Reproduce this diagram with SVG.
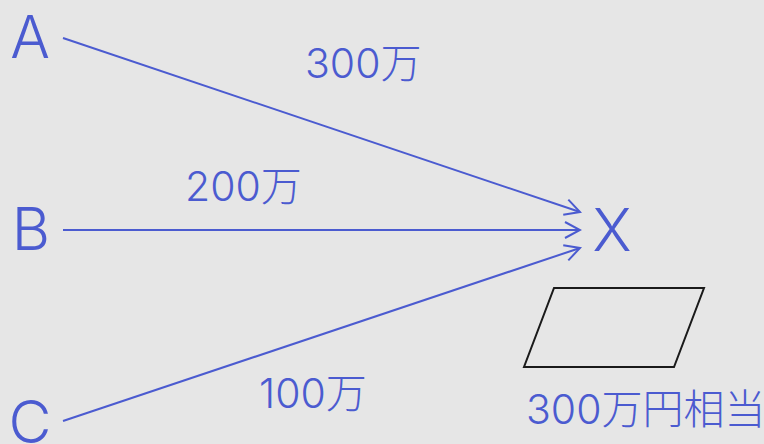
<svg xmlns="http://www.w3.org/2000/svg" width="764" height="444" viewBox="0 0 764 444">
<defs>
<style>
.t{fill:#4b5bd0;font-family:Inter,"Noto Sans CJK JP",sans-serif;font-weight:300;}
.big{font-size:59px;text-anchor:middle;}
.lbl{font-size:41px;}
.e{stroke:#4b5bd0;stroke-width:2;fill:none;}
</style>
<marker id="ah" viewBox="0 0 20 20" refX="18" refY="10" markerWidth="20" markerHeight="20" markerUnits="userSpaceOnUse" orient="auto">
<path d="M3 2 L18 10 L3 18" fill="none" stroke="#4b5bd0" stroke-width="2"/>
</marker>
</defs>
<rect width="764" height="444" fill="#e6e6e6"/>
<g id="connectors">
<line class="e" x1="63" y1="38" x2="580" y2="212" marker-end="url(#ah)"/>
<line class="e" x1="63" y1="230" x2="580" y2="230" marker-end="url(#ah)"/>
<line class="e" x1="63" y1="421" x2="580" y2="248" marker-end="url(#ah)"/>
<text class="t lbl" x="305" y="78">300万</text>
<text class="t lbl" x="185" y="201">200万</text>
<text class="t lbl" x="259" y="408">100万</text>
</g>
<g id="A"><text class="t big" x="30" y="58">A</text></g>
<g id="B"><text class="t big" x="31" y="250">B</text></g>
<g id="C"><text class="t big" x="30" y="443">C</text></g>
<g id="X"><text class="t big" x="612" y="251">X</text></g>
<g id="shape">
<polygon points="554,288 704,288 674,367 524,367" fill="none" stroke="#1a1a1a" stroke-width="2"/>
<text class="t" x="526" y="424" font-size="41">300万円相当</text>
</g>
</svg>
